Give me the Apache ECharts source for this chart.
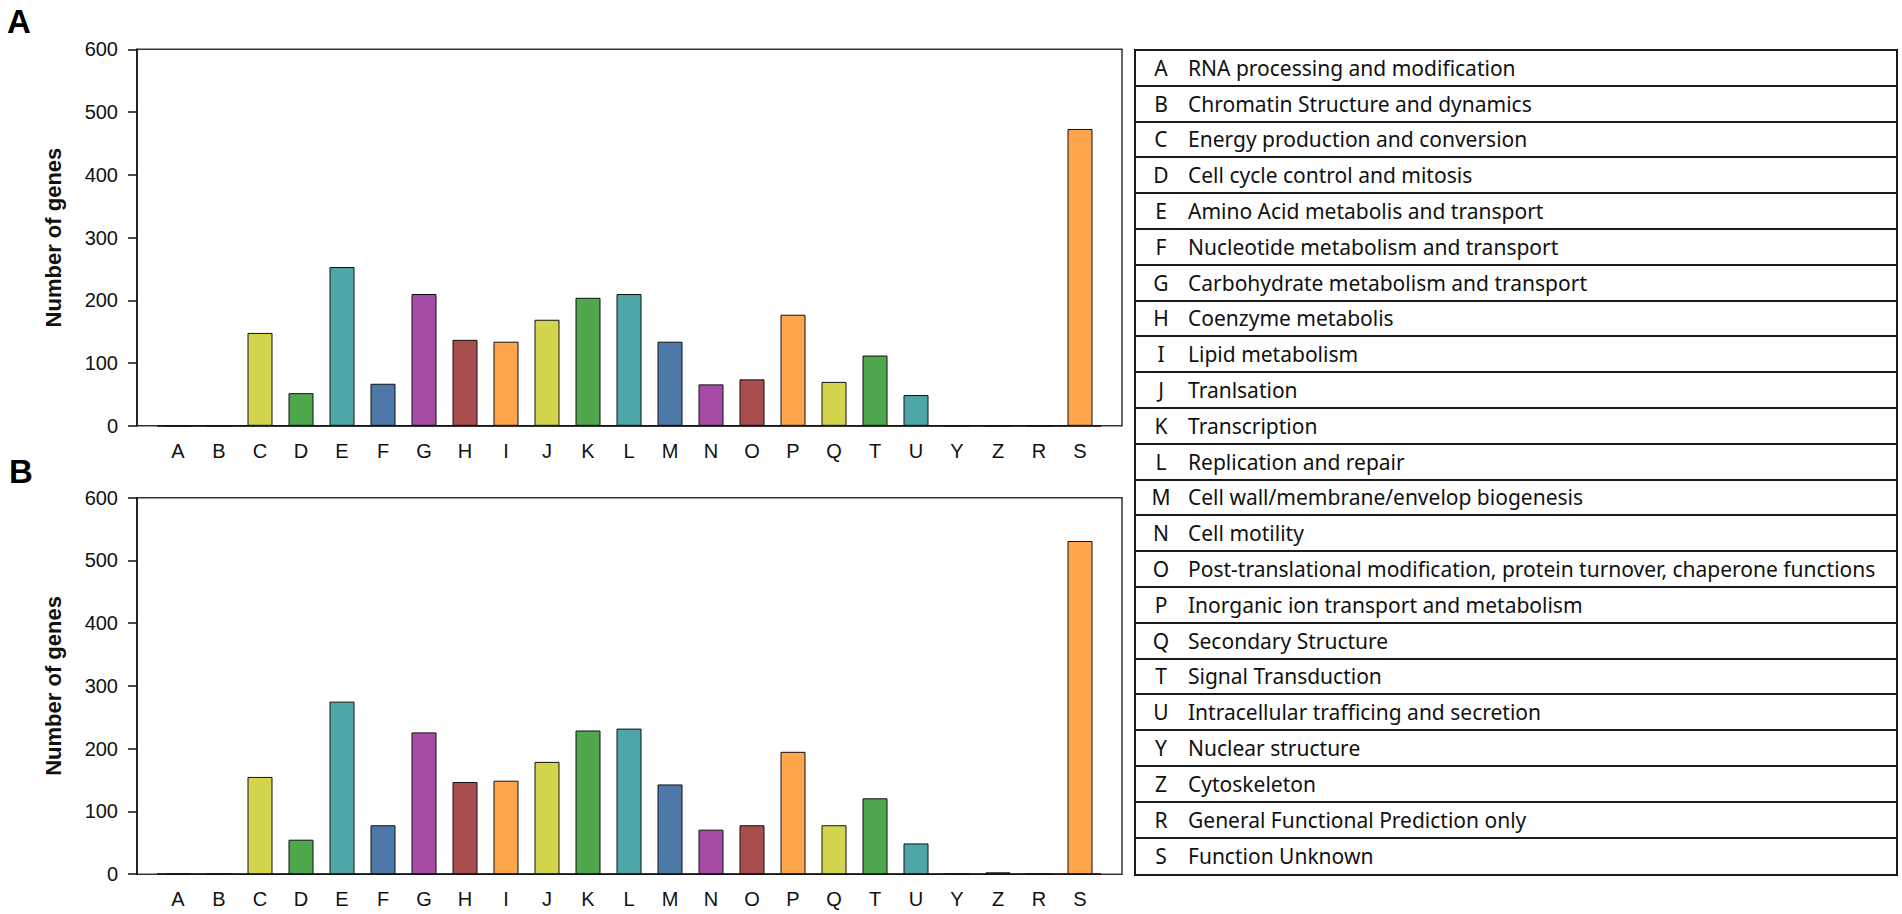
<!DOCTYPE html>
<html>
<head>
<meta charset="utf-8">
<title>COG categories</title>
<script src="https://cdn.jsdelivr.net/npm/echarts@6/dist/echarts.min.js"></script>
<style>
    html, body { margin: 0; padding: 0; background: #fff; }
    #chart { position: absolute; left: 0; top: 0; width: 1902px; height: 914px; }
    #key {
        position: absolute; left: 1134px; top: 49px; width: 760px;
        border: 2px solid #1a1a1a;
        font-family: "Noto Sans", sans-serif; font-size: 21px; color: #111;
    }
    #key .row { height: 35.8px; box-sizing: border-box; border-bottom: 2px solid #1a1a1a; display: flex; align-items: center; white-space: nowrap; }
    #key .row:last-child { border-bottom: none; }
    #key .code { width: 50px; text-align: center; margin-right: 2px; }
</style>
</head>
<body>
<div id="chart"></div>
<div id="key"></div>
<script>
{
    // COG 分类
    const categories = ['A', 'B', 'C', 'D', 'E', 'F', 'G', 'H', 'I', 'J', 'K', 'L', 'M', 'N', 'O', 'P', 'Q', 'T', 'U', 'Y', 'Z', 'R', 'S'];
    const descriptions = [
        'RNA processing and modification',
        'Chromatin Structure and dynamics',
        'Energy production and conversion',
        'Cell cycle control and mitosis',
        'Amino Acid metabolis and transport',
        'Nucleotide metabolism and transport',
        'Carbohydrate metabolism and transport',
        'Coenzyme metabolis',
        'Lipid metabolism',
        'Tranlsation',
        'Transcription',
        'Replication and repair',
        'Cell wall/membrane/envelop biogenesis',
        'Cell motility',
        'Post-translational modification, protein turnover, chaperone functions',
        'Inorganic ion transport and metabolism',
        'Secondary Structure',
        'Signal Transduction',
        'Intracellular trafficing and secretion',
        'Nuclear structure',
        'Cytoskeleton',
        'General Functional Prediction only',
        'Function Unknown'
    ];
    // 每类基因数 (A / B 两图)
    const genesA = [0, 0, 148, 52, 253, 67, 210, 137, 134, 169, 204, 210, 134, 66, 74, 177, 70, 112, 49, 0, 0, 0, 473];
    const genesB = [0, 0, 155, 55, 275, 78, 226, 147, 149, 179, 229, 232, 143, 71, 78, 195, 78, 121, 49, 0, 3, 0, 531];
    const yMin = 0, yMax = 600, yStep = 100;
    const panelNames = ['A', 'B'];
    const yTitle = 'Number of genes';

    // 颜色循环 (从 C 开始)
    const palette = ['#d4d54e', '#4fa84e', '#4ea6a6', '#4d78a8', '#a64ca6', '#a84d4d', '#ffa64d'];

    // 右侧分类说明表
    const $key = document.getElementById('key');
    categories.forEach((c, i) => {
        const row = document.createElement('div');
        row.className = 'row';
        row.innerHTML = '<span class="code">' + c + '</span><span>' + descriptions[i] + '</span>';
        $key.appendChild(row);
    });

    const axisFont = { fontFamily: '"Liberation Sans", Arial', fontSize: 20, color: '#111' };
    const panelTops = [49.3, 497.7];
    const panelHeight = 376.5;
    const panelData = [genesA, genesB];

    let grid = [], xAxis = [], yAxis = [], series = [], graphic = [];

    panelData.forEach((data, p) => {
        const g = p * 2;
        // 外框 + 纵轴
        grid.push({ left: 137, top: panelTops[p], width: 985, height: panelHeight, show: true, borderColor: '#333', borderWidth: 1.5 });
        // 柱子区域
        grid.push({ left: 157.5, top: panelTops[p], width: 943, height: panelHeight });

        xAxis.push({ gridIndex: g, type: 'value', show: false });
        xAxis.push({
            gridIndex: g + 1, type: 'category', data: categories,
            axisLine: { lineStyle: { color: '#111', width: 1.5 } },
            axisTick: { alignWithLabel: true, length: 7, lineStyle: { color: '#111', width: 1.5 } },
            axisLabel: Object.assign({ margin: 15, interval: 0 }, axisFont)
        });

        yAxis.push({
            gridIndex: g, type: 'value', min: yMin, max: yMax, interval: yStep,
            name: yTitle, nameLocation: 'middle', nameGap: 73,
            nameTextStyle: { fontFamily: '"Liberation Sans", Arial', fontWeight: 'bold', fontSize: 22, color: '#111' },
            axisLine: { show: true, lineStyle: { color: '#111', width: 1.5 } },
            axisTick: { show: true, length: 9, lineStyle: { color: '#111', width: 1.5 } },
            axisLabel: Object.assign({ margin: 19 }, axisFont),
            splitLine: { show: false }
        });
        yAxis.push({ gridIndex: g + 1, type: 'value', min: yMin, max: yMax, interval: yStep, show: false, splitLine: { show: false } });

        series.push({
            type: 'bar', xAxisIndex: g + 1, yAxisIndex: g + 1,
            barWidth: 25, silent: true,
            data: data.map((v, i) => ({
                value: v,
                itemStyle: { color: palette[(i + 5) % 7], borderColor: '#111', borderWidth: 1 }
            }))
        });

        graphic.push({
            type: 'text', left: p ? 9 : 7, top: p ? 455 : 5,
            style: { text: panelNames[p], font: 'bold 33px "Liberation Sans", Arial', fill: '#000' }
        });
    });

    const option = {
        animation: false,
        backgroundColor: '#fff',
        grid: grid,
        xAxis: xAxis,
        yAxis: yAxis,
        series: series,
        graphic: graphic
    };

    echarts.init(document.getElementById('chart'), null, { renderer: 'svg' }).setOption(option);
}
</script>
</body>
</html>
